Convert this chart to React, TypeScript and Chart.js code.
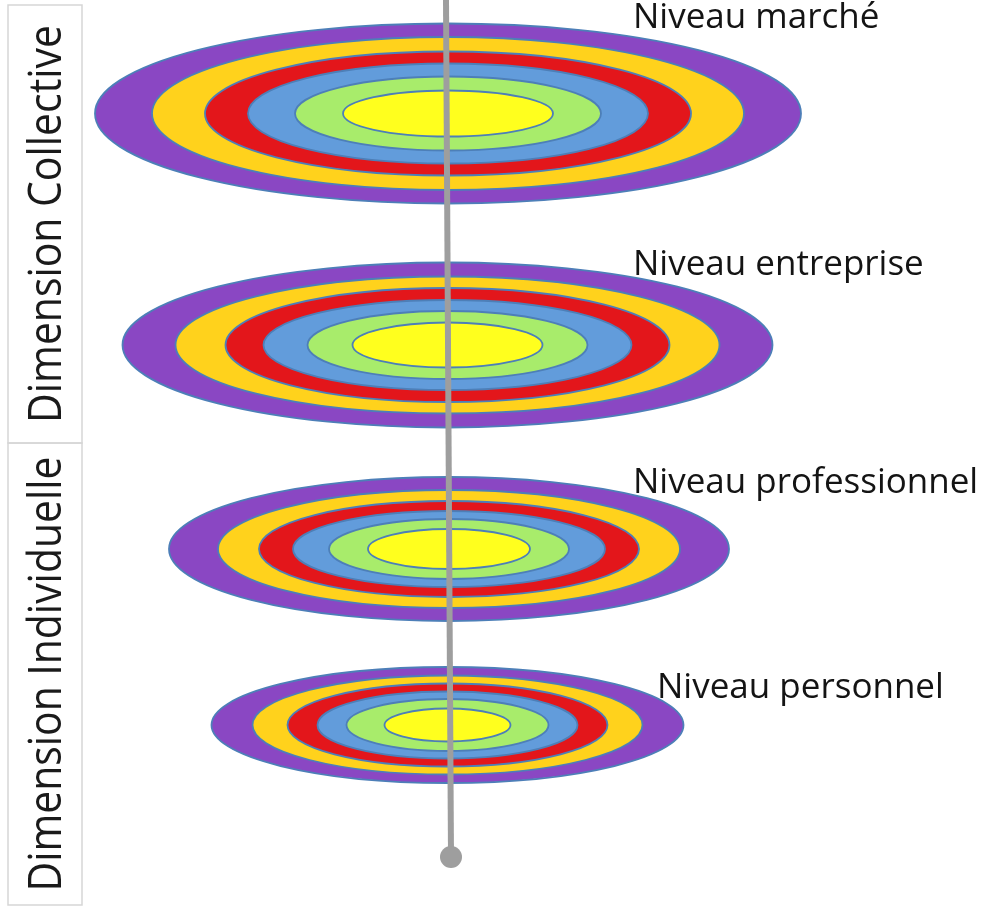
import React, { useEffect, useRef } from "react";
import { Chart, registerables } from "chart.js";

Chart.register(...registerables);

// ---- data ----
const levels = ["Niveau marché", "Niveau entreprise", "Niveau professionnel", "Niveau personnel"];
const levelCenterX = [448, 447.5, 449, 447.5];
const levelCenterY = [113.5, 345, 549, 725];
// ring half-widths (outer -> inner) for each level
const ringHalfWidths = [
  [353, 296, 243, 200, 153, 105],
  [325, 272, 222, 184, 140, 95],
  [280, 231, 190, 156, 120, 81],
  [236, 195, 160, 130, 101, 63],
];
// ring half-heights (outer -> inner) for each level
const ringHalfHeights = [
  [90, 76.5, 62, 50, 37, 23],
  [82.5, 68.5, 57, 45, 34, 22.5],
  [72, 59, 48, 38, 30, 20],
  [58, 49.5, 41.5, 33.5, 26, 16.5],
];
const ringColors = ["#8A47C3", "#FFD21C", "#E3161B", "#629CDB", "#A8EC6B", "#FFFF1E"];

const stemX = [446, 451];
const stemY = [0, 857];

const dimensionLabels = ["Dimension Collective", "Dimension Individuelle"];
const dimensionFromY = [5, 443];
const dimensionToY = [443, 905];
const dimensionTextLength = [398, 435];

const labelAnchorX = [633, 633, 633, 657];
const labelAnchorY = [18, 265, 483, 688];

const W = 990;
const H = 911;

const drawPlugin = {
  id: "levelsDraw",
  beforeDatasetsDraw(chart: any) {
    const { ctx, scales } = chart;
    const xs = scales.x;
    const ys = scales.y;
    ctx.save();
    // rings
    levels.forEach((_, li) => {
      const cx = xs.getPixelForValue(levelCenterX[li]);
      const cy = ys.getPixelForValue(levelCenterY[li]);
      ringHalfWidths[li].forEach((hw, ri) => {
        const rx = Math.abs(xs.getPixelForValue(levelCenterX[li] + hw) - cx);
        const ry = Math.abs(ys.getPixelForValue(levelCenterY[li] + ringHalfHeights[li][ri]) - cy);
        ctx.beginPath();
        ctx.ellipse(cx, cy, rx, ry, 0, 0, Math.PI * 2);
        ctx.fillStyle = ringColors[ri];
        ctx.fill();
        ctx.lineWidth = 1.8;
        ctx.strokeStyle = "#4d7fb8";
        ctx.stroke();
      });
    });
    // left dimension boxes
    const bx0 = xs.getPixelForValue(8);
    const bx1 = xs.getPixelForValue(82);
    dimensionLabels.forEach((txt, i) => {
      const y0 = ys.getPixelForValue(dimensionFromY[i]);
      const y1 = ys.getPixelForValue(dimensionToY[i]);
      ctx.strokeStyle = "#d6d6d6";
      ctx.lineWidth = 1.5;
      ctx.strokeRect(bx0, y0, bx1 - bx0, y1 - y0);
      ctx.save();
      ctx.translate((bx0 + bx1) / 2 + 3, (y0 + y1) / 2);
      ctx.rotate(-Math.PI / 2);
      ctx.fillStyle = "#1a1a1a";
      ctx.font = "46px 'Open Sans', sans-serif";
      const w = ctx.measureText(txt).width;
      ctx.scale(dimensionTextLength[i] / w, 1);
      ctx.textAlign = "center";
      ctx.textBaseline = "middle";
      ctx.fillText(txt, 0, 0);
      ctx.restore();
    });
    // level labels
    ctx.fillStyle = "#141414";
    ctx.font = "35px 'Open Sans', sans-serif";
    ctx.textAlign = "left";
    ctx.textBaseline = "middle";
    levels.forEach((txt, i) => {
      ctx.fillText(txt, xs.getPixelForValue(labelAnchorX[i]), ys.getPixelForValue(labelAnchorY[i]));
    });
    ctx.restore();
  },
};

export default function App() {
  const ref = useRef<HTMLCanvasElement | null>(null);
  useEffect(() => {
    if (!ref.current) return;
    const chart = new Chart(ref.current, {
      type: "scatter",
      data: {
        datasets: [
          {
            label: "axe",
            data: stemX.map((x, i) => ({ x, y: stemY[i] })),
            showLine: true,
            borderColor: "#9e9e9e",
            borderWidth: 6,
            pointRadius: [0, 11],
            pointBackgroundColor: "#9e9e9e",
            pointBorderWidth: 0,
            clip: false,
          },
        ],
      },
      options: {
        animation: false,
        responsive: false,
        devicePixelRatio: 1,
        layout: { padding: 0, autoPadding: false },
        plugins: { legend: { display: false }, tooltip: { enabled: false } },
        scales: {
          x: { type: "linear", min: 0, max: W, display: false },
          y: { type: "linear", min: 0, max: H, reverse: true, display: false },
        },
      },
      plugins: [drawPlugin],
    });
    return () => chart.destroy();
  }, []);
  return (
    <div style={{ position: "absolute", left: 0, top: 0, width: W, height: H, background: "#fff" }}>
      <canvas ref={ref} width={W} height={H} style={{ display: "block" }} />
    </div>
  );
}
